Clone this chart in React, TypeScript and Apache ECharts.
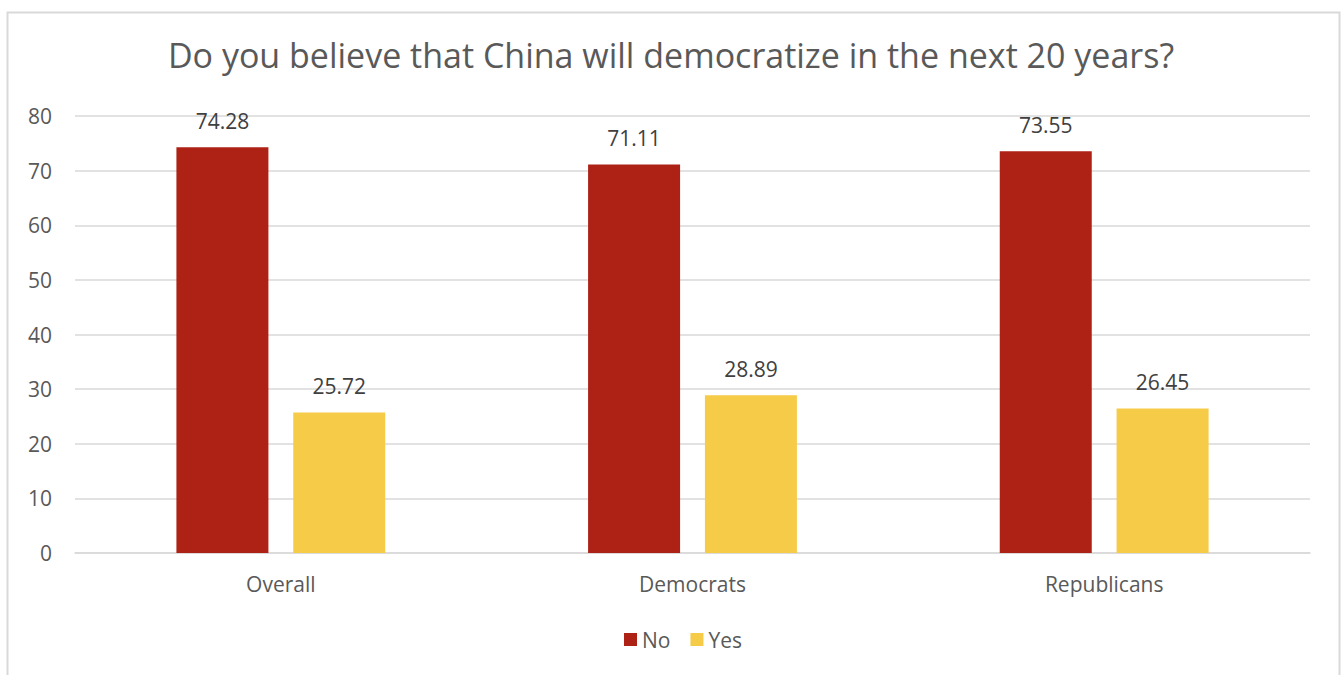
import React, { useEffect, useRef } from "react";
import * as echarts from "echarts";

const categories = ["Overall", "Democrats", "Republicans"];
const noValues = [74.28, 71.11, 73.55];
const yesValues = [25.72, 28.89, 26.45];
const seriesNames = ["No", "Yes"];
const titleText = "Do you believe that China will democratize in the next 20 years?";

export default function App() {
  const ref = useRef<HTMLDivElement>(null);
  useEffect(() => {
    if (!ref.current) return;
    const chart = echarts.init(ref.current, undefined, { renderer: "svg" });
    const font = "'Open Sans', 'Noto Sans', sans-serif";
    const labelStyle = {
      show: true,
      position: "top" as const,
      distance: 16,
      color: "#404040",
      fontSize: 21,
      fontFamily: font,
      formatter: (p: any) => p.value.toFixed(2),
    };
    chart.setOption({
      animation: false,
      backgroundColor: "#ffffff",
      textStyle: { fontFamily: font },
      title: {
        text: titleText,
        left: "center",
        top: 33,
        textStyle: { fontSize: 34, fontWeight: "normal", color: "#595959", fontFamily: font },
      },
      legend: {
        data: seriesNames,
        bottom: 20,
        left: 619,
        itemWidth: 13,
        itemHeight: 13,
        itemGap: 20,
        icon: "rect",
        textStyle: { fontSize: 21, color: "#595959", fontFamily: font },
      },
      grid: { left: 75, right: 32, top: 116, bottom: 122, containLabel: false },
      xAxis: {
        type: "category",
        data: categories,
        axisLine: { show: true, lineStyle: { color: "#d9d9d9", width: 1.5 } },
        axisTick: { show: false },
        axisLabel: { color: "#595959", fontSize: 21, margin: 20, fontFamily: font },
      },
      yAxis: {
        type: "value",
        min: 0,
        max: 80,
        interval: 10,
        axisLine: { show: false },
        axisTick: { show: false },
        axisLabel: { color: "#595959", fontSize: 21, margin: 23, fontFamily: font },
        splitLine: { lineStyle: { color: "#d9d9d9", width: 1.5 } },
      },
      series: [
        {
          name: seriesNames[0],
          type: "bar",
          data: noValues,
          barWidth: 92,
          barGap: "27%",
          itemStyle: { color: "#AE2216" },
          label: labelStyle,
        },
        {
          name: seriesNames[1],
          type: "bar",
          data: yesValues,
          barWidth: 92,
          itemStyle: { color: "#F5CB47" },
          label: labelStyle,
        },
      ],
      graphic: [
        {
          type: "rect",
          shape: { x: 7.5, y: 12.5, width: 1332, height: 700 },
          style: { fill: "none", stroke: "#d9d9d9", lineWidth: 2 },
          silent: true,
        },
      ],
    });
    return () => chart.dispose();
  }, []);
  return (
    <div
      ref={ref}
      style={{ position: "fixed", left: 0, top: 0, width: 1342, height: 675 }}
    />
  );
}
